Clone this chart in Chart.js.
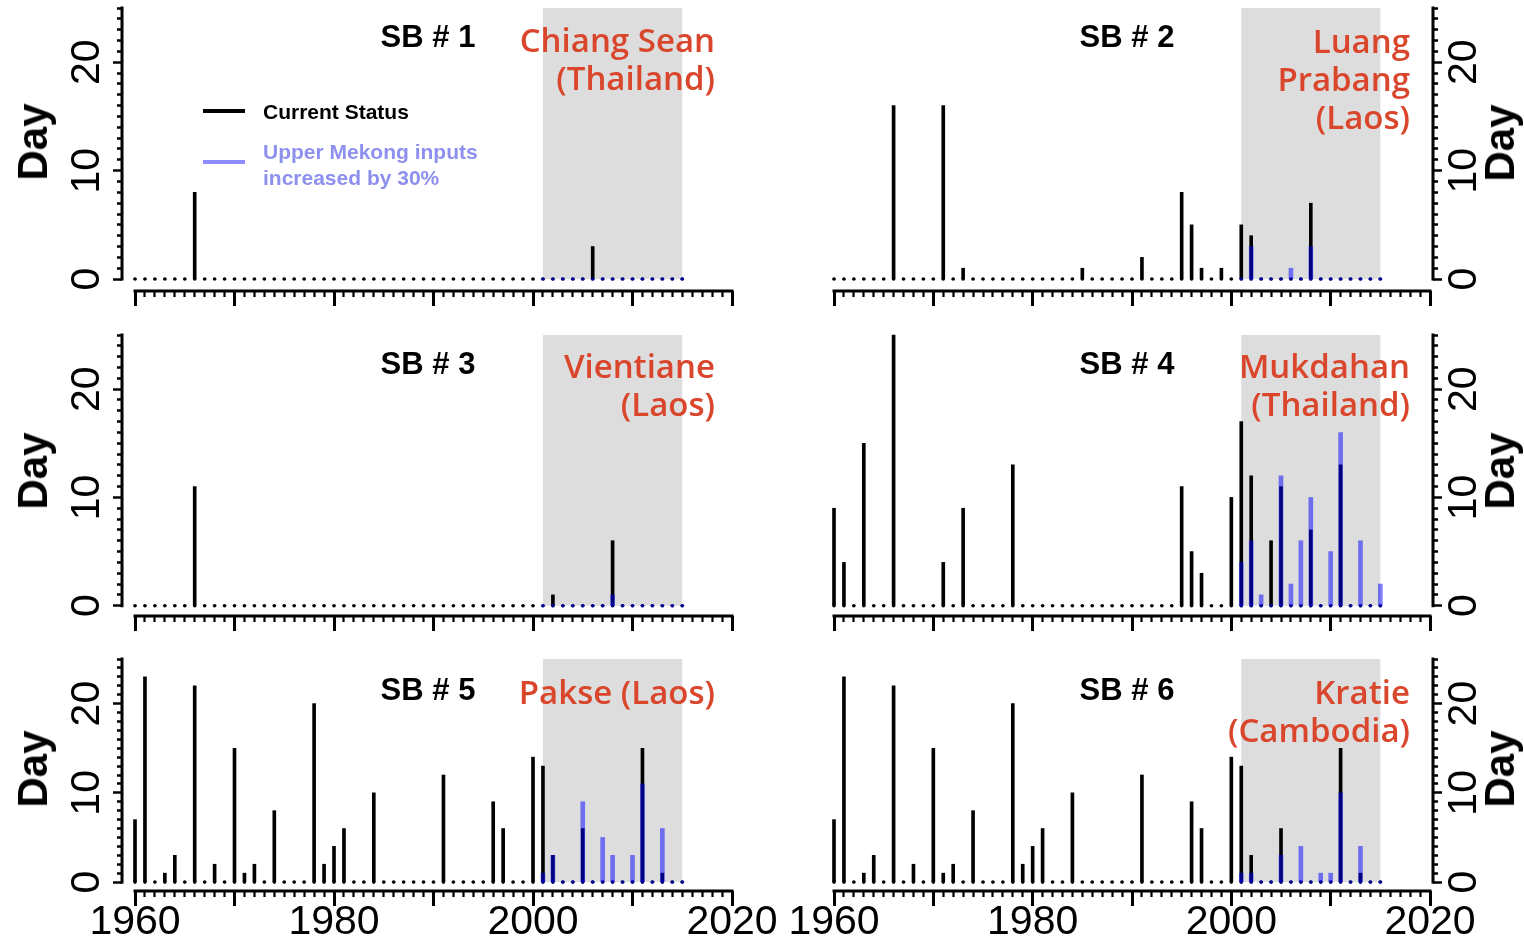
<!DOCTYPE html>
<html>
<head>
<meta charset="utf-8">
<script src="https://cdn.jsdelivr.net/npm/chart.js@4.4.1/dist/chart.umd.min.js"></script>
<style>
html,body{margin:0;padding:0;background:#fff;}
#wrap{position:relative;width:1524px;height:944px;overflow:hidden;background:#fff;}
#wrap canvas{position:absolute;}
.t{position:absolute;white-space:nowrap;z-index:5;}
.sb{font-family:'Liberation Sans',Arial,sans-serif;font-weight:bold;font-size:31px;line-height:30px;color:#000;transform:translateX(-50%);}
.st{font-family:'Open Sans',sans-serif;font-weight:600;font-size:33px;line-height:38px;color:#d9462c;text-align:right;}
.day{font-family:'Liberation Sans',Arial,sans-serif;font-weight:bold;font-size:42px;line-height:42px;color:#000;transform:translate(-50%,-50%) rotate(-90deg);}
.lg{font-family:'Liberation Sans',Arial,sans-serif;font-weight:bold;font-size:21px;line-height:26px;}
.ln{position:absolute;height:4px;width:42px;z-index:5;}
</style>
</head>
<body>
<div id="wrap">
  <div class="t sb" style="left:428px;top:22px;">SB # 1</div>
  <div class="t sb" style="left:1127px;top:22px;">SB # 2</div>
  <div class="t sb" style="left:428px;top:349px;">SB # 3</div>
  <div class="t sb" style="left:1127px;top:349px;">SB # 4</div>
  <div class="t sb" style="left:428px;top:675px;">SB # 5</div>
  <div class="t sb" style="left:1127px;top:675px;">SB # 6</div>

  <div class="t st" style="right:809px;top:21px;">Chiang Sean<br>(Thailand)</div>
  <div class="t st" style="right:114px;top:22px;">Luang<br>Prabang<br>(Laos)</div>
  <div class="t st" style="right:809px;top:347px;">Vientiane<br>(Laos)</div>
  <div class="t st" style="right:114px;top:347px;">Mukdahan<br>(Thailand)</div>
  <div class="t st" style="right:809px;top:673px;">Pakse (Laos)</div>
  <div class="t st" style="right:114px;top:673px;">Kratie<br>(Cambodia)</div>

  <div class="t day" style="left:33px;top:142px;">Day</div>
  <div class="t day" style="left:33px;top:471px;">Day</div>
  <div class="t day" style="left:33px;top:769px;">Day</div>
  <div class="t day" style="left:1500px;top:143px;">Day</div>
  <div class="t day" style="left:1500px;top:471px;">Day</div>
  <div class="t day" style="left:1500px;top:769px;">Day</div>

  <div class="ln" style="left:203px;top:109px;background:#000;"></div>
  <div class="t lg" style="left:263px;top:99px;color:#000;">Current Status</div>
  <div class="ln" style="left:203px;top:160px;background:rgba(0,0,255,0.45);"></div>
  <div class="t lg" style="left:263px;top:139px;color:#8d90ee;">Upper Mekong inputs<br>increased by 30%</div>
</div>
<script>
// ---------- data ----------
const YEARS = [1960,1961,1962,1963,1964,1965,1966,1967,1968,1969,
               1970,1971,1972,1973,1974,1975,1976,1977,1978,1979,
               1980,1981,1982,1983,1984,1985,1986,1987,1988,1989,
               1990,1991,1992,1993,1994,1995,1996,1997,1998,1999,
               2000,2001,2002,2003,2004,2005,2006,2007,2008,2009,
               2010,2011,2012,2013,2014,2015];
const SCEN_YEARS = [2001,2002,2003,2004,2005,2006,2007,2008,2009,2010,2011,2012,2013,2014,2015];
const X_TICKS = [1960,1961,1962,1963,1964,1965,1966,1967,1968,1969,
                 1970,1971,1972,1973,1974,1975,1976,1977,1978,1979,
                 1980,1981,1982,1983,1984,1985,1986,1987,1988,1989,
                 1990,1991,1992,1993,1994,1995,1996,1997,1998,1999,
                 2000,2001,2002,2003,2004,2005,2006,2007,2008,2009,
                 2010,2011,2012,2013,2014,2015,2016,2017,2018,2019,2020];
const Y_TICKS = [0,1,2,3,4,5,6,7,8,9,10,11,12,13,14,15,16,17,18,19,20,21,22,23,24,25];
const BAND = [2001, 2015];

// Current status (days per year, 1960-2015)
const SB1_CURRENT = [0,0,0,0,0,0,8,0,0,0, 0,0,0,0,0,0,0,0,0,0, 0,0,0,0,0,0,0,0,0,0,
                     0,0,0,0,0,0,0,0,0,0, 0,0,0,0,0,0,3,0,0,0, 0,0,0,0,0,0];
const SB2_CURRENT = [0,0,0,0,0,0,16,0,0,0, 0,16,0,1,0,0,0,0,0,0, 0,0,0,0,0,1,0,0,0,0,
                     0,2,0,0,0,8,5,1,0,1, 0,5,4,0,0,0,0,0,7,0, 0,0,0,0,0,0];
const SB3_CURRENT = [0,0,0,0,0,0,11,0,0,0, 0,0,0,0,0,0,0,0,0,0, 0,0,0,0,0,0,0,0,0,0,
                     0,0,0,0,0,0,0,0,0,0, 0,0,1,0,0,0,0,0,6,0, 0,0,0,0,0,0];
const SB4_CURRENT = [9,4,0,15,0,0,25,0,0,0, 0,4,0,9,0,0,0,0,13,0, 0,0,0,0,0,0,0,0,0,0,
                     0,0,0,0,0,11,5,3,0,0, 10,17,12,0,6,11,0,0,7,0, 0,13,0,0,0,0];
const SB5_CURRENT = [7,23,0,1,3,0,22,0,2,0, 15,1,2,0,8,0,0,0,20,2, 4,6,0,0,10,0,0,0,0,0,
                     0,12,0,0,0,0,9,6,0,0, 14,13,3,0,0,6,0,0,0,0, 0,15,0,1,0,0];
const SB6_CURRENT = [7,23,0,1,3,0,22,0,2,0, 15,1,2,0,8,0,0,0,20,2, 4,6,0,0,10,0,0,0,0,0,
                     0,12,0,0,0,0,9,6,0,0, 14,13,3,0,0,6,0,0,0,0, 0,15,0,1,0,0];

// Upper Mekong inputs increased by 30% (2001-2015)
const SB1_PLUS30 = [0,0,0,0,0,0,0,0,0,0,0,0,0,0,0];
const SB2_PLUS30 = [0,3,0,0,0,1,0,3,0,0,0,0,0,0,0];
const SB3_PLUS30 = [0,0,0,0,0,0,0,1,0,0,0,0,0,0,0];
const SB4_PLUS30 = [4,6,1,0,12,2,6,10,0,5,16,0,6,0,2];
const SB5_PLUS30 = [1,3,0,0,9,0,5,3,0,3,11,0,6,0,0];
const SB6_PLUS30 = [1,1,0,0,3,0,4,0,1,1,10,0,4,0,0];

// ---------- layout ----------
const BLUE = 'rgba(0,0,255,0.5)';
const ROWS = [
  {top:0,   h:320, areaTop:8,   areaBottom:291, yMin:-1.1,  labels:false},
  {top:320, h:320, areaTop:335, areaBottom:616, yMin:-0.95, labels:false},
  {top:640, h:304, areaTop:659, areaBottom:891, yMin:-1.0,  labels:true}
];
const COLS = {
  left:  {left:0,   w:780, areaLeft:122, areaRight:732,  xMin:1958.693, xMax:2020},
  right: {left:780, w:744, areaLeft:834, areaRight:1433, xMin:1960,     xMax:2020.302}
};
const PANELS = [
  {cur:SB1_CURRENT, up:SB1_PLUS30, side:'left',  row:0},
  {cur:SB2_CURRENT, up:SB2_PLUS30, side:'right', row:0},
  {cur:SB3_CURRENT, up:SB3_PLUS30, side:'left',  row:1},
  {cur:SB4_CURRENT, up:SB4_PLUS30, side:'right', row:1},
  {cur:SB5_CURRENT, up:SB5_PLUS30, side:'left',  row:2},
  {cur:SB6_CURRENT, up:SB6_PLUS30, side:'right', row:2}
];

Chart.defaults.font.family = "'Liberation Sans', Arial, sans-serif";
Chart.defaults.color = '#000';

const framePlugin = {
  id: 'frame',
  beforeDatasetsDraw(chart) {
    const {ctx, chartArea, scales} = chart;
    const x = scales.x, y = scales.y;
    ctx.save();
    const bx0 = x.getPixelForValue(BAND[0]), bx1 = x.getPixelForValue(BAND[1]);
    const by0 = y.getPixelForValue(Y_TICKS[Y_TICKS.length - 1]), by1 = y.getPixelForValue(0);
    ctx.fillStyle = '#dddddd';
    ctx.fillRect(bx0, by0, bx1 - bx0, by1 - by0);
    ctx.strokeStyle = '#000';
    ctx.lineWidth = 3;
    ctx.beginPath();
    ctx.moveTo(x.getPixelForValue(X_TICKS[0]) - 1.5, chartArea.bottom);
    ctx.lineTo(x.getPixelForValue(X_TICKS[X_TICKS.length - 1]) + 1.5, chartArea.bottom);
    ctx.stroke();
    const ax = y.position === 'left' ? chartArea.left : chartArea.right;
    ctx.beginPath();
    ctx.moveTo(ax, y.getPixelForValue(0) + 1.5);
    ctx.lineTo(ax, y.getPixelForValue(Y_TICKS[Y_TICKS.length - 1]) - 1.5);
    ctx.stroke();
    ctx.restore();
  }
};

const wrap = document.getElementById('wrap');

function makeChart(p) {
  const row = ROWS[p.row], col = COLS[p.side];
  const isLeft = p.side === 'left';
  const cv = document.createElement('canvas');
  cv.width = col.w; cv.height = row.h;
  cv.style.left = col.left + 'px'; cv.style.top = row.top + 'px';
  cv.style.width = col.w + 'px'; cv.style.height = row.h + 'px';
  wrap.insertBefore(cv, wrap.firstChild);
  new Chart(cv, {
    type: 'bar',
    data: {
      datasets: [
        {type:'line', label:'scenario base', data: SCEN_YEARS.map(yr => ({x: yr, y: 0})), showLine:false, clip:false,
         pointRadius:1.8, pointHoverRadius:1.8, pointBackgroundColor:BLUE, pointBorderWidth:0, order:1},
        {type:'bar', label:'Upper Mekong inputs increased by 30%', data: SCEN_YEARS.map((yr, i) => ({x: yr, y: p.up[i]})),
         backgroundColor:BLUE, barThickness:4, grouped:false, clip:false, order:2},
        {type:'bar', label:'Current Status', data: YEARS.map((yr, i) => ({x: yr, y: p.cur[i]})),
         backgroundColor:'#000', barThickness:3, grouped:false, clip:false, order:3},
        {type:'line', label:'current base', data: YEARS.map(yr => ({x: yr, y: 0})), showLine:false, clip:false,
         pointRadius:1.8, pointHoverRadius:1.8, pointBackgroundColor:'#000', pointBorderWidth:0, order:4}
      ]
    },
    options: {
      responsive:false, animation:false, devicePixelRatio:1,
      events: [],
      layout: {padding: {
        top: row.areaTop - row.top, bottom: 0,
        left: isLeft ? 0 : (col.areaLeft - col.left),
        right: isLeft ? (col.left + col.w - col.areaRight) : 0
      }},
      plugins: {legend:{display:false}, tooltip:{enabled:false}},
      scales: {
        x: {
          type:'linear', min:col.xMin, max:col.xMax, bounds:'data', offset:false, position:'bottom',
          afterBuildTicks: s => { s.ticks = X_TICKS.map(v => ({value: v})); },
          afterFit: s => { s.height = row.top + row.h - row.areaBottom; s.paddingLeft = 0; s.paddingRight = 0; },
          border: {display:false},
          grid: {
            offset:false, drawOnChartArea:false, drawTicks:true, tickLength:15, tickColor:'#000',
            tickWidth: c => (c.tick && c.tick.value % 10 === 0) ? 3 : 2.2,
            tickBorderDash: c => (c.tick && c.tick.value % 10 === 0) ? [] : [6, 50]
          },
          ticks: {
            autoSkip:false, maxRotation:0, minRotation:0, padding:-4, color:'#000',
            font:{size:41, lineHeight:1},
            callback: v => (row.labels && v % 20 === 0) ? String(v) : ''
          }
        },
        y: {
          type:'linear', min:row.yMin, max:25, bounds:'data', position: isLeft ? 'left' : 'right',
          afterBuildTicks: s => { s.ticks = Y_TICKS.map(v => ({value: v})); },
          afterFit: s => {
            s.width = isLeft ? (col.areaLeft - col.left) : (col.left + col.w - col.areaRight);
            s.paddingTop = 0; s.paddingBottom = 0;
          },
          border: {display:false},
          grid: {
            drawOnChartArea:false, drawTicks:true, tickLength:9, tickColor:'#000', tickWidth:2.5,
            tickBorderDash: c => (c.tick && c.tick.value % 10 === 0) ? [] : (isLeft ? [0, 4, 5, 40] : [5, 40])
          },
          ticks: {
            autoSkip:false, minRotation:90, maxRotation:90, crossAlign:'center',
            padding: isLeft ? 3 : 0, color:'#000', font:{size:41, lineHeight:1},
            callback: v => (v % 10 === 0) ? String(v) : ''
          }
        }
      }
    },
    plugins: [framePlugin]
  });
}

PANELS.forEach(makeChart);
</script>
</body>
</html>
